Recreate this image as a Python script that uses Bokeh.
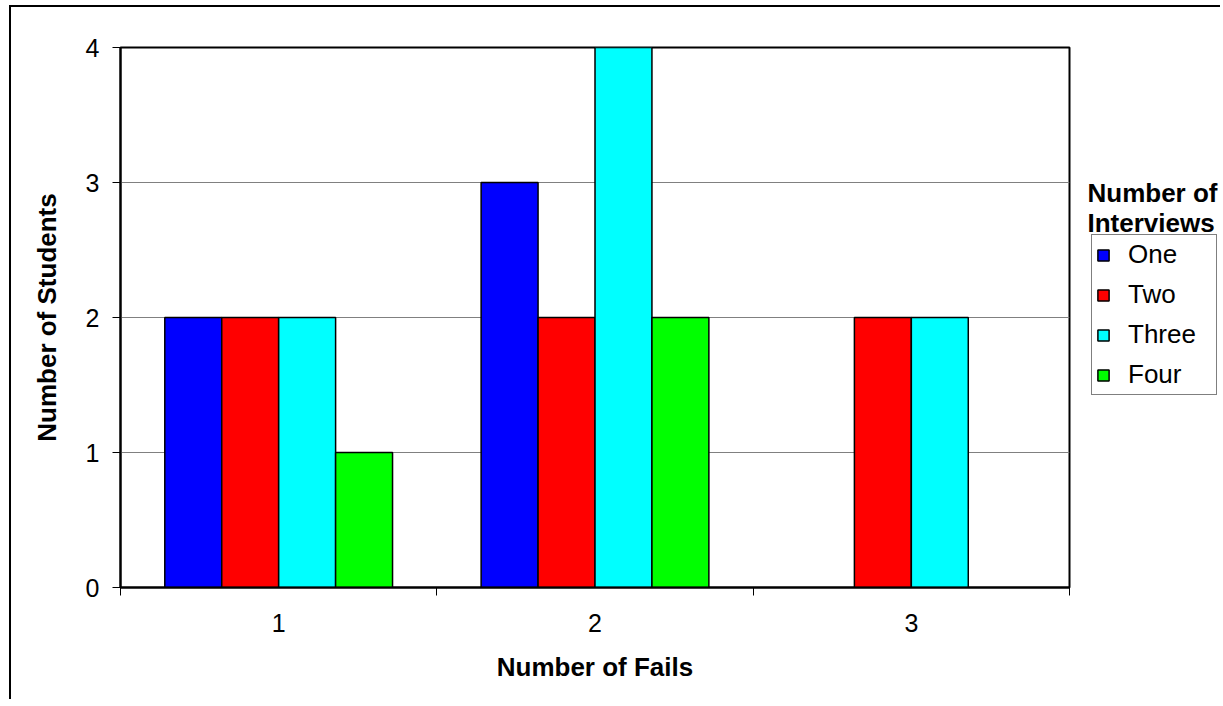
from bokeh.plotting import figure
from bokeh.layouts import row
from bokeh.models import FixedTicker, Legend, LegendItem, Label, Range1d, ColumnDataSource
from bokeh.embed import file_html
from bokeh.resources import INLINE

# ---- data ----
fails = ["1", "2", "3"]
series = ["One", "Two", "Three", "Four"]
one = [2, 3, 0]
two = [2, 2, 2]
three = [2, 4, 2]
four = [1, 2, 0]
colors = ["#0000FF", "#FF0000", "#00FFFF", "#00FF00"]
y_ticks = [0, 1, 2, 3, 4]
legend_title = ["Number of", "Interviews"]

FONT = "Liberation Sans"

# ---- main chart ----
p = figure(width=1069, height=692, output_backend="svg", toolbar_location=None,
           title=None,
           x_range=Range1d(0.5, 3.5), y_range=Range1d(0, 4),
           min_border_left=109, min_border_right=11, min_border_top=40,
           min_border_bottom=112)

bar_w = 0.18
values = [one, two, three, four]
for i, (name, vals, col) in enumerate(zip(series, values, colors)):
    off = (i - 1.5) * bar_w
    xs = [k + 1 + off for k, v in enumerate(vals) if v > 0]
    tops = [v for v in vals if v > 0]
    src = ColumnDataSource(dict(x=xs, top=tops))
    p.vbar(x="x", top="top", bottom=0, width=bar_w, source=src,
           fill_color=col, line_color="black", line_width=1.5)

p.xaxis.ticker = FixedTicker(ticks=[1, 2, 3], minor_ticks=[0.5, 1.5, 2.5, 3.5])
p.xaxis.major_label_overrides = {i + 1: f for i, f in enumerate(fails)}
p.xaxis.major_tick_out = 0
p.xaxis.major_tick_in = 0
p.xaxis.minor_tick_out = 8
p.xaxis.minor_tick_in = 0
p.xaxis.minor_tick_line_color = "black"
p.xaxis.major_label_standoff = 18
p.xaxis.axis_label = "Number of Fails"
p.xaxis.axis_label_standoff = 17

p.yaxis.ticker = FixedTicker(ticks=y_ticks)
p.yaxis.major_tick_out = 8
p.yaxis.major_tick_in = 0
p.yaxis.minor_tick_line_color = None
p.yaxis.major_label_standoff = 13
p.yaxis.axis_label = "Number of Students"
p.yaxis.axis_label_standoff = 21

for ax in (p.xaxis, p.yaxis):
    ax.axis_line_color = "black"
    ax.axis_line_width = 2
    ax.major_tick_line_color = "black"
    ax.major_label_text_font = FONT
    ax.major_label_text_font_size = "25px"
    ax.major_label_text_color = "black"
    ax.axis_label_text_font = FONT
    ax.axis_label_text_font_size = "26px"
    ax.axis_label_text_font_style = "bold"
    ax.axis_label_text_color = "black"

p.xgrid.grid_line_color = None
p.ygrid.grid_line_color = "#808080"
p.ygrid.grid_line_width = 1
p.outline_line_color = "black"
p.outline_line_width = 2
p.background_fill_color = "white"
p.border_fill_color = "white"

# ---- legend panel (its frame is aligned with the main frame: 140 x 540 px) ----
q = figure(width=140, height=692, output_backend="svg", toolbar_location=None,
           title=None,
           x_range=Range1d(0, 140), y_range=Range1d(0, 540),
           x_axis_location=None, y_axis_location=None,
           min_border=0, min_border_left=0, min_border_right=0,
           min_border_top=0, min_border_bottom=0)
q.outline_line_color = None
q.grid.grid_line_color = None
q.background_fill_color = "white"
q.border_fill_color = "white"

items = []
for name, col in zip(series, colors):
    # swatch-only renderer (a NaN bar draws nothing)
    r = q.vbar(x=[0], top=[float("nan")], bottom=[float("nan")], width=1,
               fill_color=col, line_color="black", line_width=1.5)
    items.append(LegendItem(label=name, renderers=[r]))

legend = Legend(items=items, location=(11, 192), margin=0,
                border_line_color="black", border_line_width=1.5,
                padding=4, spacing=9, label_height=29, label_width=84,
                glyph_height=14, glyph_width=14, label_standoff=18,
                label_text_font=FONT, label_text_font_size="26px",
                label_text_color="black", background_fill_alpha=1)
q.add_layout(legend, "center")

for j, t in enumerate(legend_title):
    q.add_layout(Label(x=7, y=395 - j * 30, text=t, text_font=FONT,
                       text_font_size="26px", text_font_style="bold",
                       text_baseline="middle", text_align="left",
                       text_color="black"))

layout = row(p, q, styles={"margin-left": "9px", "margin-top": "5px",
                           "border-left": "2px solid black",
                           "border-top": "2px solid black"})

open("out.html", "w").write(file_html(layout, INLINE))
